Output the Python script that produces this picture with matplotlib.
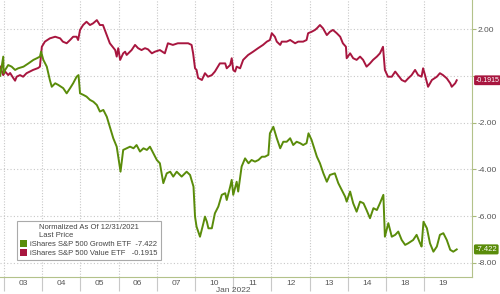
import matplotlib
matplotlib.use("Agg")
import matplotlib.pyplot as plt
from matplotlib.patches import Rectangle

# trading day labels (Jan 2022)
day_labels = ["03", "04", "05", "06", "07", "10", "11", "12", "13", "14", "18", "19"]

# time in trading days since Jan 3 open, normalized % change vs 12/31/2021
value_t = [-0.10, -0.02, 0.03, 0.11, 0.16, 0.24, 0.29, 0.33, 0.42, 0.50, 0.59, 0.76, 0.89, 0.94,
           0.99, 1.07, 1.20, 1.34, 1.47, 1.54, 1.64, 1.73, 1.81, 1.90, 1.94, 1.99, 2.07, 2.16,
           2.25, 2.33, 2.43, 2.51, 2.59, 2.69, 2.77, 2.91, 2.95, 2.99, 3.04, 3.12, 3.17, 3.21,
           3.34, 3.43, 3.51, 3.60, 3.69, 3.77, 3.87, 3.95, 4.08, 4.21, 4.29, 4.42, 4.55, 4.69,
           4.82, 4.91, 4.95, 5.00, 5.04, 5.08, 5.18, 5.26, 5.34, 5.44, 5.52, 5.65, 5.79, 5.83,
           5.92, 5.96, 6.00, 6.05, 6.09, 6.18, 6.26, 6.39, 6.52, 6.65, 6.78, 6.88, 6.96, 7.01,
           7.09, 7.14, 7.23, 7.27, 7.40, 7.49, 7.62, 7.70, 7.83, 7.92, 7.96, 8.05, 8.14, 8.19,
           8.27, 8.35, 8.45, 8.53, 8.61, 8.71, 8.80, 8.87, 8.95, 8.97, 9.06, 9.14, 9.23, 9.32,
           9.40, 9.49, 9.58, 9.66, 9.76, 9.84, 9.92, 9.97, 10.05, 10.15, 10.24, 10.31, 10.41,
           10.50, 10.58, 10.67, 10.76, 10.84, 10.93, 10.97, 11.02, 11.10, 11.20, 11.33, 11.41,
           11.49, 11.59, 11.68, 11.72, 11.81, 11.85]
value_v = [0.39, 0.03, 0.18, 0.03, 0.12, -0.09, -0.21, -0.04, 0.03, -0.04, 0.11, 0.25, 0.33, 0.39,
           1.24, 1.46, 1.60, 1.67, 1.60, 1.46, 1.39, 1.53, 1.67, 1.67, 1.53, 1.96, 2.17, 2.31,
           2.17, 2.24, 2.38, 2.17, 2.17, 1.74, 1.39, 1.10, 0.82, 1.18, 0.68, 0.96, 1.03, 0.89,
           1.10, 1.32, 1.18, 1.10, 1.18, 1.13, 0.96, 1.03, 1.10, 0.96, 1.39, 1.32, 1.39, 1.39,
           1.39, 1.32, 0.96, 0.32, 0.25, -0.09, -0.18, 0.11, -0.04, 0.03, 0.18, 0.53, 0.53, 0.32,
           0.46, 0.75, 0.25, 0.18, 0.39, 0.32, 0.68, 0.89, 1.03, 1.18, 1.32, 1.46, 1.53, 1.82,
           1.67, 1.46, 1.32, 1.46, 1.46, 1.53, 1.39, 1.46, 1.46, 1.53, 1.82, 1.88, 1.96, 2.03,
           2.17, 2.03, 1.74, 1.88, 1.96, 1.82, 1.67, 1.39, 1.24, 0.75, 0.96, 0.75, 0.68, 0.82,
           0.68, 0.39, 0.53, 0.68, 0.82, 0.96, 1.24, 0.25, -0.04, -0.04, 0.18, 0.03, -0.18,
           -0.25, -0.11, 0.03, 0.25, 0.03, -0.04, 0.32, 0.03, -0.47, -0.18, -0.04, 0.11,
           0.03, -0.11, -0.32, -0.47, -0.32, -0.1915]

growth_t = [-0.10, -0.02, -0.01, 0.03, 0.11, 0.20, 0.29, 0.37, 0.51, 0.64, 0.77, 0.86, 0.94, 0.97,
            1.03, 1.12, 1.20, 1.25, 1.34, 1.42, 1.55, 1.64, 1.73, 1.81, 1.90, 1.95, 1.99, 2.08,
            2.16, 2.25, 2.34, 2.43, 2.51, 2.60, 2.69, 2.77, 2.86, 2.95, 2.99, 3.05, 3.12, 3.21,
            3.30, 3.39, 3.47, 3.56, 3.65, 3.74, 3.82, 3.91, 4.00, 4.08, 4.17, 4.26, 4.35, 4.43,
            4.52, 4.65, 4.78, 4.87, 4.96, 5.00, 5.04, 5.13, 5.22, 5.26, 5.31, 5.35, 5.44, 5.52,
            5.61, 5.70, 5.79, 5.83, 5.92, 5.96, 6.00, 6.09, 6.13, 6.22, 6.31, 6.40, 6.48, 6.57,
            6.66, 6.75, 6.83, 6.92, 6.96, 7.05, 7.14, 7.23, 7.31, 7.40, 7.49, 7.57, 7.66, 7.75,
            7.83, 7.92, 7.97, 8.05, 8.19, 8.27, 8.36, 8.45, 8.53, 8.66, 8.75, 8.84, 8.93, 8.97,
            9.06, 9.14, 9.23, 9.32, 9.41, 9.49, 9.58, 9.67, 9.76, 9.84, 9.93, 9.97, 10.06, 10.15,
            10.24, 10.32, 10.41, 10.50, 10.58, 10.71, 10.80, 10.89, 10.93, 10.98, 11.07, 11.15,
            11.24, 11.33, 11.41, 11.50, 11.59, 11.68, 11.76, 11.85]
growth_v = [0.0, 0.82, 0.11, 0.25, 0.46, 0.39, 0.25, 0.32, 0.39, 0.53, 0.68, 0.75, 0.82, 1.03,
            0.68, 0.39, -0.18, -0.47, -0.32, -0.39, -0.53, -0.75, -0.53, -0.32, -0.04, 0.03, -0.75, -0.82,
            -0.89, -1.03, -1.11, -1.25, -1.53, -1.46, -1.75, -2.18, -2.67, -3.03, -3.46, -4.10, -3.17, -3.10,
            -3.03, -3.10, -2.96, -3.24, -3.10, -3.17, -3.03, -3.31, -3.60, -3.74, -4.59, -4.17, -4.10, -4.31,
            -4.10, -4.31, -4.10, -4.24, -4.74, -6.02, -6.45, -6.88, -6.30, -6.02, -6.24, -6.52, -6.52, -5.88,
            -5.59, -5.09, -5.02, -5.31, -4.74, -4.45, -5.09, -4.53, -4.95, -3.88, -3.53, -3.74, -3.60, -3.67,
            -3.60, -3.46, -3.46, -3.38, -2.46, -2.18, -2.67, -3.10, -2.82, -2.82, -2.67, -2.96, -2.82, -2.88,
            -2.96, -2.88, -2.46, -2.74, -3.46, -3.74, -4.17, -4.53, -4.24, -4.17, -4.59, -4.88, -5.17, -5.38,
            -4.95, -5.45, -5.81, -5.38, -5.45, -5.74, -6.09, -5.66, -5.74, -5.45, -5.09, -6.88, -6.30, -6.88,
            -6.80, -6.66, -7.02, -7.23, -7.16, -7.02, -6.80, -7.16, -7.30, -6.24, -6.52, -7.16,
            -7.52, -7.30, -6.80, -6.73, -7.02, -7.44, -7.52, -7.422]

y_ticks = [2, 0, -2, -4, -6, -8]

GREEN = "#5a8c0a"
RED = "#a8163f"
GRID = "#c8c8c8"
TXT = "#555555"

plt.rcParams["font.family"] = ["Liberation Sans", "DejaVu Sans"]


def main():
    fig = plt.figure(figsize=(5.0, 2.94), dpi=100)
    ax = fig.add_axes([0.0, 0.058, 0.944, 0.942])

    ax.plot(value_t, value_v, color=RED, lw=1.4, zorder=3)
    ax.plot(growth_t, growth_v, color=GREEN, lw=1.4, zorder=3)

    ax.set_xlim(-0.105, 12.25)
    ax.set_ylim(-8.6, 3.24)

    # grid: day boundaries and value levels
    for b in range(len(day_labels)):
        ax.axvline(b, color=GRID, lw=0.8, ls=(0, (1, 1.5)), zorder=1)
    for v in y_ticks:
        ax.axhline(v, color=GRID, lw=0.8, ls=(0, (1, 2)), zorder=1)

    # x axis: long ticks at boundaries, labels in day centres
    ax.set_xticks(range(len(day_labels)))
    ax.set_xticklabels([])
    ax.tick_params(axis="x", which="major", length=10, color=GRID, width=0.8)
    ax.set_xticks([i + 0.5 for i in range(len(day_labels))], minor=True)
    ax.set_xticklabels(day_labels, minor=True)
    ax.tick_params(axis="x", which="minor", length=0, labelsize=6, labelcolor=TXT, pad=2)
    ax.text(5.55, -9.2, "Jan 2022", fontsize=6, color=TXT, ha="left", va="center",
            clip_on=False)

    # y axis on the right
    ax.yaxis.tick_right()
    ax.set_yticks(y_ticks)
    ax.set_yticklabels([f"{v:.2f}" if v != 0 else "" for v in y_ticks])
    ax.tick_params(axis="y", length=3, color="#a9b97a", labelsize=6, labelcolor=TXT, pad=1)

    for side in ["left", "top"]:
        ax.spines[side].set_visible(False)
    ax.spines["right"].set_color("#b3c28a")
    ax.spines["bottom"].set_color("#b3c28a")

    # last price tags
    ax.annotate(f"{value_v[-1]:.4f}", xy=(1.0, value_v[-1]), xycoords=("axes fraction", "data"),
                xytext=(2.5, 0), textcoords="offset points", fontsize=5, color="white",
                va="center", ha="left",
                bbox=dict(boxstyle="round,pad=0.2", fc=RED, ec="none"), annotation_clip=False)
    ax.annotate(f"{growth_v[-1]:.3f}", xy=(1.0, growth_v[-1]), xycoords=("axes fraction", "data"),
                xytext=(2.5, 0), textcoords="offset points", fontsize=5.5, color="white",
                va="center", ha="left",
                bbox=dict(boxstyle="round,pad=0.2", fc=GREEN, ec="none"), annotation_clip=False)

    # legend
    handles = [Rectangle((0, 0), 1, 1, fc=GREEN, ec="none"),
               Rectangle((0, 0), 1, 1, fc=RED, ec="none")]
    labels = [f"iShares S&P 500 Growth ETF  {growth_v[-1]:.3f}",
              f"iShares S&P 500 Value ETF   {value_v[-1]:.4f}"]
    leg = ax.legend(handles, labels, title="Normalized As Of 12/31/2021\nLast Price",
                    loc="lower left", bbox_to_anchor=(0.036, 0.061), borderaxespad=0,
                    fontsize=5.5, title_fontsize=5.5, handlelength=0.9, handleheight=0.9,
                    handletextpad=0.4, labelspacing=0.15, borderpad=0.4, fancybox=False,
                    framealpha=1, edgecolor="#aaaaaa")
    leg.get_frame().set_linewidth(0.8)
    leg.get_title().set_color("#444444")
    for t in leg.get_texts():
        t.set_color("#444444")

    fig.savefig("out.png", dpi=100)


if __name__ == "__main__":
    main()
